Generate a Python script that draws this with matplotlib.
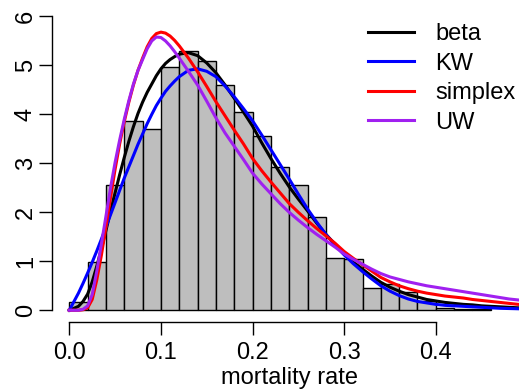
import numpy as np
import matplotlib.pyplot as plt

plt.rcParams['font.family'] = ['Liberation Sans', 'DejaVu Sans']

# histogram of mortality rate (bins of 0.02 starting at 0)
bin_width = 0.02
hist_heights = [0.17, 0.99, 2.56, 3.86, 3.71, 4.97, 5.29, 5.10, 4.60, 4.05,
                3.55, 2.92, 2.56, 1.91, 1.06, 1.05, 0.46, 0.53, 0.37, 0.18,
                0.05, 0.03, 0.02]

# fitted densities
x_grid = [0.0, 0.01, 0.015, 0.02, 0.025, 0.03, 0.035, 0.04, 0.045, 0.05, 0.055,
          0.06, 0.065, 0.07, 0.075, 0.08, 0.085, 0.09, 0.095, 0.10, 0.105,
          0.11, 0.115, 0.12, 0.13, 0.14, 0.15,
          0.16, 0.17, 0.18, 0.19, 0.20, 0.21, 0.22, 0.23, 0.24, 0.25, 0.26,
          0.27, 0.28, 0.29, 0.30, 0.31, 0.32, 0.33, 0.34, 0.35, 0.36, 0.37,
          0.38, 0.39, 0.40, 0.41, 0.42, 0.43, 0.44, 0.45, 0.46, 0.47, 0.48, 0.49]

beta = [0.0, 0.08, 0.18, 0.33, 0.58, 0.9, 1.25, 1.63, 2.02, 2.4, 2.77,
        3.12, 3.45, 3.75, 4.02, 4.25, 4.45, 4.62, 4.79, 4.93, 5.04,
        5.12, 5.18, 5.23, 5.26, 5.2, 5.05,
        4.85, 4.6, 4.33, 4.05, 3.76, 3.42, 3.1, 2.8, 2.52, 2.27, 2.03,
        1.78, 1.55, 1.35, 1.15, 0.98, 0.84, 0.7, 0.57, 0.47, 0.39, 0.32,
        0.27, 0.22, 0.19, 0.16, 0.14, 0.12, 0.11, 0.09, 0.08, 0.07, 0.06, 0.05]

kw = [0.0, 0.35, 0.55, 0.76, 0.98, 1.21, 1.45, 1.7, 1.95, 2.2, 2.45,
      2.7, 2.93, 3.16, 3.39, 3.6, 3.81, 4.0, 4.18, 4.33, 4.47,
      4.58, 4.68, 4.77, 4.9, 4.93, 4.88,
      4.77, 4.58, 4.36, 4.12, 3.87, 3.58, 3.28, 2.98, 2.68, 2.37, 2.07,
      1.8, 1.55, 1.33, 1.13, 0.95, 0.79, 0.64, 0.5, 0.39, 0.3, 0.23,
      0.18, 0.15, 0.12, 0.1, 0.09, 0.08, 0.07, 0.06, 0.05, 0.04, 0.035, 0.03]

simplex = [0.0, 0.0, 0.01, 0.05, 0.22, 0.62, 1.12, 1.7, 2.3, 2.88, 3.4,
           3.85, 4.25, 4.6, 4.9, 5.15, 5.38, 5.55, 5.65, 5.68, 5.66,
           5.6, 5.51, 5.4, 5.15, 4.87, 4.57,
           4.26, 3.97, 3.68, 3.4, 3.1, 2.85, 2.62, 2.4, 2.18, 2.0, 1.83,
           1.67, 1.52, 1.37, 1.2, 1.06, 0.93, 0.8, 0.67, 0.58, 0.5, 0.44,
           0.39, 0.35, 0.32, 0.29, 0.27, 0.25, 0.22, 0.2, 0.18, 0.16, 0.14, 0.12]

uw = [0.0, 0.0, 0.02, 0.09, 0.32, 0.8, 1.35, 1.92, 2.5, 3.02, 3.48,
      3.9, 4.28, 4.62, 4.9, 5.12, 5.34, 5.5, 5.58, 5.57, 5.5,
      5.4, 5.28, 5.15, 4.88, 4.6, 4.27,
      3.93, 3.62, 3.35, 3.08, 2.8, 2.58, 2.38, 2.18, 2.0, 1.84, 1.69,
      1.55, 1.42, 1.29, 1.15, 1.04, 0.94, 0.84, 0.75, 0.68, 0.63, 0.58,
      0.54, 0.5, 0.47, 0.44, 0.41, 0.38, 0.35, 0.32, 0.29, 0.26, 0.23, 0.21]

W, H = 519, 390
fig = plt.figure(figsize=(W / 100, H / 100), dpi=100)
# R style plot region (xlim 0..0.48 and ylim 0..6 with 4% padding)
ax = fig.add_axes([51.7 / W, (H - 322) / H, 475 / W, 317.3 / H])

left_edges = np.arange(len(hist_heights)) * bin_width
ax.bar(left_edges, hist_heights, width=bin_width, align='edge',
       color='#bebebe', edgecolor='black', linewidth=1.0, zorder=1)

ax.plot(x_grid, beta, color='black', lw=2.2, label='beta', zorder=3)
ax.plot(x_grid, kw, color='#0000ff', lw=2.2, label='KW', zorder=3)
ax.plot(x_grid, simplex, color='#ff0000', lw=2.2, label='simplex', zorder=3)
ax.plot(x_grid, uw, color='#a020f0', lw=2.2, label='UW', zorder=3)

ax.set_xlim(-0.0192, 0.4992)
ax.set_ylim(-0.24, 6.24)

for s in ['top', 'right']:
    ax.spines[s].set_visible(False)
ax.spines['left'].set_bounds(0, 6)
ax.spines['bottom'].set_bounds(0, 0.4)
ax.spines['left'].set_linewidth(1.0)
ax.spines['bottom'].set_linewidth(1.0)

ax.set_xticks([0.0, 0.1, 0.2, 0.3, 0.4])
ax.set_xticklabels(['0.0', '0.1', '0.2', '0.3', '0.4'])
ax.set_yticks(range(7))
ax.set_yticklabels([str(i) for i in range(7)], rotation=90, va='center')
ax.tick_params(axis='both', length=9.7, width=1.0, labelsize=17)
ax.tick_params(axis='x', pad=5)
ax.tick_params(axis='y', pad=1)
ax.set_xlabel('mortality rate', fontsize=17, labelpad=2)

ax.legend(loc='upper left', bbox_to_anchor=(368 / W, 1 - 23 / H),
          bbox_transform=fig.transFigure, frameon=False, fontsize=17,
          handlelength=1.96, handletextpad=0.9, labelspacing=0.32,
          borderpad=0, borderaxespad=0)

fig.savefig('out.png', dpi=100)
